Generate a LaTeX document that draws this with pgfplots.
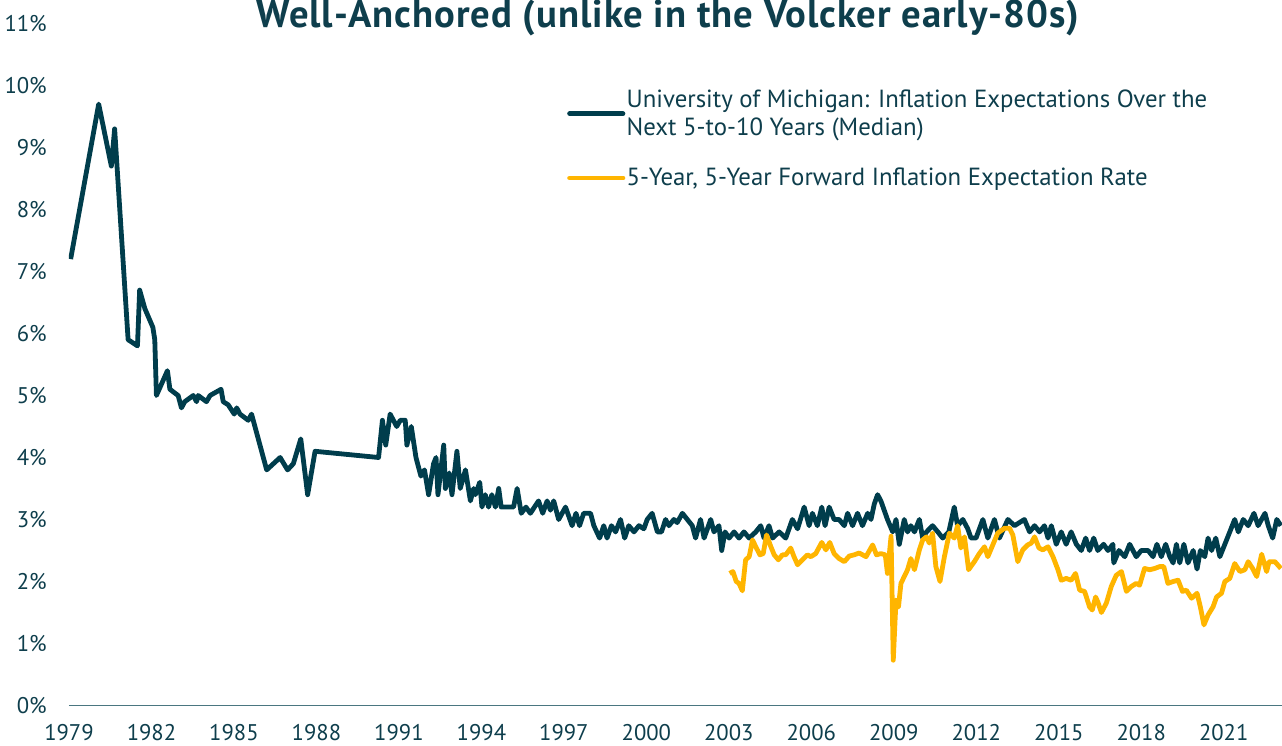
\documentclass[border=0pt]{standalone}
\usepackage{pgfplots}
\pgfplotsset{compat=1.18}
\usepackage{fontspec}
\setmainfont{PT Sans}
\definecolor{mich}{RGB}{0,61,76}
\definecolor{fwd}{RGB}{255,181,0}
\definecolor{txt}{RGB}{14,62,76}
\definecolor{axcol}{RGB}{74,118,128}

\begin{document}
\begin{tikzpicture}
\useasboundingbox (0,0) rectangle (961.5pt,559.5pt);
\begin{axis}[
  at={(51.75pt,30.375pt)}, anchor=south west,
  scale only axis, width=909.75pt, height=511.5pt,
  xmin=1979, xmax=2023.12, ymin=0, ymax=11,
  axis lines*=left, separate axis lines,
  y axis line style={draw=none},
  x axis line style={draw=axcol, line width=1.3pt, -},
  major tick length=0pt,
  xtick={1979,1982,...,2021},
  ytick={0,1,...,11},
  /pgf/number format/.cd, 1000 sep={}, assume math mode=true,
  /pgfplots/.cd,
  yticklabel={\pgfmathprintnumber{\tick}\%},
  tick label style={font=\fontsize{17}{20}\selectfont, text=txt},
  yticklabel style={anchor=east, inner sep=0pt, xshift=-16.5pt},
  xticklabel style={anchor=north, inner sep=0pt, yshift=-14pt},
  clip=true,
  legend style={at={(0.4105,0.905)}, anchor=north west, draw=none, fill=none,
    font=\fontsize{18.6}{21}\selectfont, text=txt, row sep=21pt, inner sep=0pt,
    nodes={align=left, inner sep=1pt}},
  legend cell align=left,
  legend image code/.code={\draw[#1, line width=3.6pt, line cap=round] (0pt,0pt) -- (40pt,0pt);},
  every axis plot/.append style={line join=round},
]
\addplot[mich, line width=3.6pt] table[row sep=\\] {
x y\\
1979.06 7.2\\ 1980.08 9.7\\ 1980.54 8.7\\ 1980.66 9.3\\ 1981.15 5.9\\ 1981.49 5.8\\
1981.57 6.7\\ 1981.76 6.4\\ 1982.05 6.1\\ 1982.12 5.9\\ 1982.18 5.0\\ 1982.58 5.4\\
1982.67 5.1\\ 1982.97 5.0\\ 1983.09 4.8\\ 1983.21 4.9\\ 1983.52 5.0\\ 1983.64 4.9\\
1983.70 5.0\\ 1984.00 4.9\\ 1984.13 5.0\\ 1984.53 5.1\\ 1984.61 4.9\\ 1984.79 4.85\\
1985.01 4.7\\ 1985.10 4.8\\ 1985.22 4.7\\ 1985.52 4.6\\ 1985.64 4.7\\ 1986.19 3.8\\
1986.68 4.0\\ 1986.95 3.8\\ 1987.16 3.9\\ 1987.43 4.3\\ 1987.68 3.4\\ 1987.95 4.1\\
1990.26 4.0\\ 1990.40 4.6\\ 1990.52 4.2\\ 1990.68 4.7\\ 1990.92 4.5\\ 1991.05 4.6\\
1991.23 4.6\\ 1991.29 4.2\\ 1991.45 4.5\\ 1991.62 4.0\\ 1991.80 3.7\\ 1991.93 3.8\\
1992.08 3.4\\ 1992.26 3.9\\ 1992.35 4.0\\ 1992.42 3.4\\ 1992.63 4.2\\ 1992.69 3.5\\
1992.83 3.75\\ 1992.93 3.4\\ 1993.11 4.1\\ 1993.23 3.5\\ 1993.42 3.8\\ 1993.60 3.3\\
1993.72 3.5\\ 1993.78 3.4\\ 1993.94 3.6\\ 1994.02 3.2\\ 1994.14 3.4\\ 1994.26 3.2\\
1994.38 3.4\\ 1994.51 3.2\\ 1994.63 3.5\\ 1994.72 3.2\\ 1994.99 3.2\\ 1995.17 3.2\\
1995.30 3.5\\ 1995.45 3.1\\ 1995.62 3.2\\ 1995.78 3.1\\ 1996.08 3.3\\ 1996.23 3.1\\
1996.39 3.3\\ 1996.51 3.15\\ 1996.63 3.3\\ 1996.81 3.0\\ 1997.06 3.2\\ 1997.30 2.9\\
1997.44 3.1\\ 1997.57 2.9\\ 1997.72 3.1\\ 1997.97 3.1\\ 1998.09 2.9\\ 1998.30 2.7\\
1998.45 2.9\\ 1998.57 2.7\\ 1998.73 2.9\\ 1998.88 2.8\\ 1999.06 3.0\\ 1999.21 2.7\\
1999.36 2.9\\ 1999.55 2.8\\ 1999.73 2.9\\ 1999.91 2.85\\ 2000.03 3.0\\ 2000.21 3.1\\
2000.40 2.8\\ 2000.55 2.8\\ 2000.70 3.0\\ 2000.82 2.9\\ 2001.00 3.0\\ 2001.12 2.95\\
2001.31 3.1\\ 2001.49 3.0\\ 2001.67 2.9\\ 2001.79 2.7\\ 2001.97 3.0\\ 2002.10 2.7\\
2002.34 3.0\\ 2002.46 2.8\\ 2002.64 2.9\\ 2002.74 2.5\\ 2002.86 2.8\\ 2003.01 2.7\\
2003.19 2.8\\ 2003.37 2.7\\ 2003.55 2.8\\ 2003.74 2.7\\ 2003.98 2.8\\ 2004.16 2.9\\
2004.28 2.7\\ 2004.46 2.9\\ 2004.59 2.7\\ 2004.83 2.8\\ 2005.07 2.7\\ 2005.31 3.0\\
2005.50 2.85\\ 2005.74 3.2\\ 2005.92 2.9\\ 2006.04 3.1\\ 2006.22 2.9\\ 2006.38 3.2\\
2006.50 2.9\\ 2006.65 3.2\\ 2006.83 3.0\\ 2007.01 3.0\\ 2007.20 2.9\\ 2007.32 3.1\\
2007.50 2.9\\ 2007.68 3.1\\ 2007.86 2.9\\ 2008.05 3.1\\ 2008.17 3.0\\ 2008.29 3.25\\
2008.41 3.4\\ 2008.53 3.3\\ 2008.65 3.15\\ 2008.77 3.0\\ 2008.96 2.8\\ 2009.08 3.0\\
2009.20 2.6\\ 2009.38 3.0\\ 2009.50 2.8\\ 2009.62 2.9\\ 2009.75 2.8\\ 2009.93 3.0\\
2010.05 2.7\\ 2010.19 2.8\\ 2010.41 2.9\\ 2010.60 2.8\\ 2010.78 2.7\\ 2011.00 2.8\\
2011.20 3.2\\ 2011.32 2.9\\ 2011.51 3.0\\ 2011.69 2.85\\ 2011.81 2.7\\ 2011.99 2.7\\
2012.24 3.0\\ 2012.42 2.7\\ 2012.66 3.0\\ 2012.84 2.7\\ 2013.15 3.0\\ 2013.39 2.9\\
2013.75 3.0\\ 2013.94 2.8\\ 2014.12 2.9\\ 2014.30 2.8\\ 2014.48 2.9\\ 2014.61 2.7\\
2014.73 2.9\\ 2014.91 2.6\\ 2015.09 2.8\\ 2015.27 2.6\\ 2015.45 2.8\\ 2015.64 2.6\\
2015.82 2.5\\ 2015.98 2.7\\ 2016.12 2.5\\ 2016.27 2.7\\ 2016.42 2.5\\ 2016.63 2.6\\
2016.79 2.5\\ 2016.97 2.6\\ 2017.00 2.3\\ 2017.19 2.5\\ 2017.40 2.4\\ 2017.58 2.6\\
2017.82 2.4\\ 2018.00 2.5\\ 2018.25 2.5\\ 2018.43 2.4\\ 2018.57 2.6\\ 2018.73 2.4\\
2018.89 2.6\\ 2019.04 2.4\\ 2019.16 2.3\\ 2019.28 2.6\\ 2019.40 2.3\\ 2019.55 2.6\\
2019.70 2.3\\ 2019.89 2.5\\ 2020.03 2.2\\ 2020.15 2.5\\ 2020.31 2.4\\ 2020.43 2.7\\
2020.56 2.5\\ 2020.71 2.7\\ 2020.86 2.4\\ 2021.04 2.6\\ 2021.22 2.8\\ 2021.40 3.0\\
2021.53 2.8\\ 2021.71 3.0\\ 2021.89 2.9\\ 2022.10 3.1\\ 2022.25 2.9\\ 2022.50 3.1\\
2022.62 2.9\\ 2022.78 2.7\\ 2022.93 3.0\\ 2023.08 2.9\\
};
\addlegendentry{University of Michigan: Inflation Expectations Over the\\Next 5-to-10 Years (Median)}
\addplot[fwd, line width=3.6pt] table[row sep=\\] {
x y\\
2003.03 2.13\\ 2003.15 2.16\\ 2003.27 2.00\\ 2003.37 1.97\\ 2003.49 1.85\\ 2003.61 2.35\\
2003.74 2.40\\ 2003.86 2.67\\ 2003.98 2.56\\ 2004.13 2.43\\ 2004.25 2.45\\ 2004.37 2.75\\
2004.53 2.56\\ 2004.65 2.43\\ 2004.80 2.35\\ 2004.95 2.43\\ 2005.07 2.43\\ 2005.25 2.54\\
2005.37 2.40\\ 2005.50 2.27\\ 2005.68 2.35\\ 2005.86 2.43\\ 2005.98 2.40\\ 2006.16 2.45\\
2006.38 2.63\\ 2006.53 2.51\\ 2006.67 2.63\\ 2006.83 2.45\\ 2007.01 2.37\\ 2007.20 2.32\\
2007.38 2.41\\ 2007.56 2.43\\ 2007.74 2.46\\ 2007.99 2.40\\ 2008.23 2.59\\ 2008.37 2.43\\
2008.53 2.45\\ 2008.69 2.43\\ 2008.77 2.13\\ 2008.90 2.73\\ 2008.98 0.73\\ 2009.08 1.70\\
2009.17 1.59\\ 2009.26 1.97\\ 2009.38 2.08\\ 2009.50 2.19\\ 2009.62 2.37\\ 2009.75 2.19\\
2009.93 2.51\\ 2010.05 2.67\\ 2010.19 2.72\\ 2010.29 2.62\\ 2010.41 2.78\\ 2010.53 2.24\\
2010.68 2.00\\ 2010.84 2.40\\ 2011.02 2.78\\ 2011.20 2.70\\ 2011.32 2.90\\ 2011.44 2.54\\
2011.57 2.72\\ 2011.72 2.19\\ 2011.93 2.32\\ 2012.11 2.45\\ 2012.30 2.56\\ 2012.42 2.40\\
2012.60 2.59\\ 2012.78 2.78\\ 2013.03 2.86\\ 2013.21 2.86\\ 2013.33 2.75\\ 2013.51 2.32\\
2013.69 2.51\\ 2013.87 2.59\\ 2014.00 2.62\\ 2014.12 2.72\\ 2014.28 2.54\\ 2014.42 2.51\\
2014.61 2.56\\ 2014.79 2.40\\ 2014.97 2.19\\ 2015.09 2.02\\ 2015.27 2.05\\ 2015.45 2.02\\
2015.61 2.13\\ 2015.76 1.86\\ 2015.94 1.84\\ 2016.12 1.59\\ 2016.22 1.54\\ 2016.34 1.75\\
2016.42 1.67\\ 2016.55 1.50\\ 2016.73 1.65\\ 2016.91 1.92\\ 2017.09 2.10\\ 2017.28 2.16\\
2017.46 1.84\\ 2017.64 1.92\\ 2017.82 1.97\\ 2017.94 1.94\\ 2018.12 2.21\\ 2018.31 2.19\\
2018.49 2.21\\ 2018.67 2.24\\ 2018.82 2.24\\ 2018.97 1.97\\ 2019.16 2.00\\ 2019.34 2.02\\
2019.50 1.84\\ 2019.64 1.86\\ 2019.83 1.73\\ 2020.03 1.81\\ 2020.15 1.59\\ 2020.28 1.30\\
2020.43 1.46\\ 2020.61 1.59\\ 2020.74 1.75\\ 2020.92 1.81\\ 2021.04 2.00\\ 2021.22 2.05\\
2021.40 2.29\\ 2021.59 2.16\\ 2021.77 2.19\\ 2021.89 2.32\\ 2022.05 2.21\\ 2022.20 2.08\\
2022.38 2.44\\ 2022.56 2.16\\ 2022.65 2.32\\ 2022.86 2.32\\ 2023.08 2.21\\
};
\addlegendentry{5-Year, 5-Year Forward Inflation Expectation Rate}
\end{axis}
\node[anchor=base, font=\fontsize{29}{34}\selectfont\bfseries\addfontfeature{LetterSpace=2.5}, text=txt] at (501pt,538.5pt) {Well-Anchored (unlike in the Volcker early-80s)};
\end{tikzpicture}
\end{document}
